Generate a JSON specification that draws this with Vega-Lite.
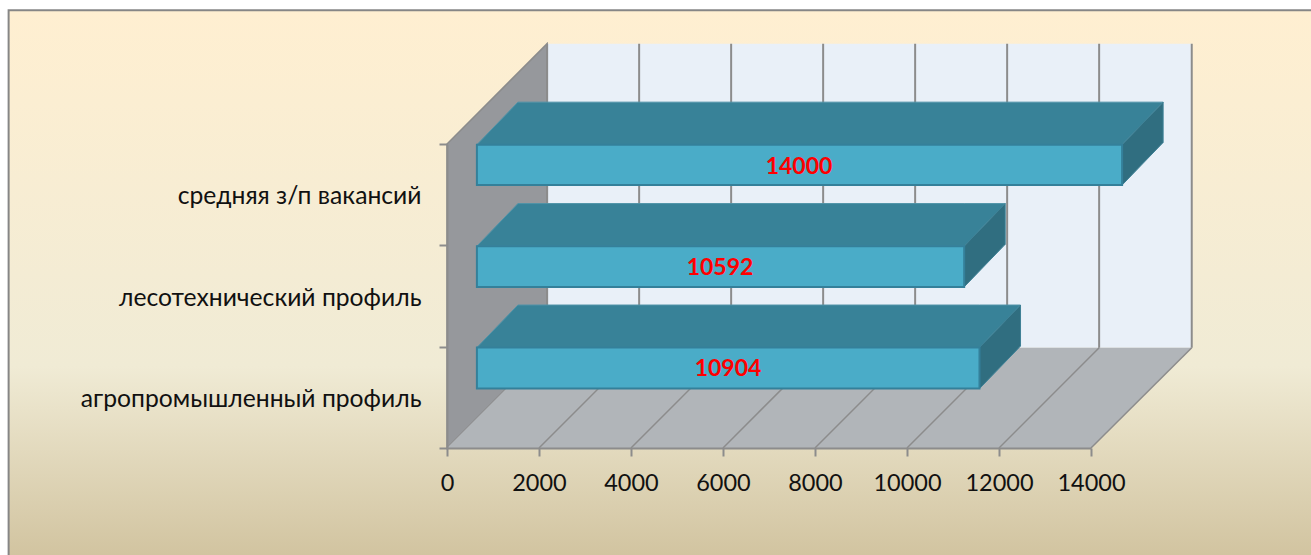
{
"$schema":"https://vega.github.io/schema/vega-lite/v6.json",
"width":644,"height":304,
"autosize":"none",
"padding":{"left":447,"top":144,"right":220,"bottom":107},
"background":"white",
"config":{"view":{"stroke":null}},
"encoding":{
"x":{"field":"x","type":"quantitative","scale":{"domain":[0,14000],"nice":false,"zero":false},
"axis":{"title":null,"grid":false,"zindex":1,"values":[0,2000,4000,6000,8000,10000,12000,14000],"format":"d","labelFont":"Lato","labelFontSize":23.5,"labelColor":"#111111","labelPadding":15,"labelFlush":false,"labelOverlap":false,"labelBound":false,"tickSize":8,"tickWidth":2,"tickColor":"#8c8c8c","domainColor":"#8c8c8c","domainWidth":2}},
"y":{"field":"y","type":"quantitative","scale":{"domain":[0,3],"nice":false,"zero":false},
"axis":{"title":null,"grid":false,"zindex":1,"values":[0,0.5,1,1.5,2,2.5,3],"labelExpr":"datum.value==0.5?'агропромышленный профиль':datum.value==1.5?'лесотехнический профиль':datum.value==2.5?'средняя з/п вакансий':''","labelFont":"Lato","labelFontSize":24.7,"labelColor":"#111111","labelPadding":18,"labelOffset":2,"labelLimit":500,"labelFlush":false,"labelOverlap":false,"labelBound":false,"tickSize":8,"tickWidth":2,"tickColor":"#8c8c8c","tickOpacity":{"expr":"datum.value%1==0?1:0"},"domainColor":"#8c8c8c","domainWidth":2}}
},
"layer":[
{"data":{"values":[{"x":-9530,"x2":19000,"y":4.32,"y2":-1.1}]},
"mark":{"type":"rect","clip":false,"stroke":"#868686","strokeWidth":2,"color":{"gradient":"linear","x1":0,"y1":0,"x2":0,"y2":1,"stops":[{"offset":0,"color":"#FFEFD1"},{"offset":0.648,"color":"#F0EBD5"},{"offset":1,"color":"#D1C39F"}]}},
"encoding":{"x2":{"field":"x2"},"y2":{"field":"y2"}}},
{"data":{"values":[{"x":2177,"x2":16190,"y":0.99,"y2":3.99}]},
"mark":{"type":"rect","color":"#E9F0F8"},
"encoding":{"x2":{"field":"x2"},"y2":{"field":"y2"}}},
{"data":{"values":[{"x":0,"y":0,"y2":3},{"x":2177,"y":0.99,"y2":3.99}]},
"mark":{"type":"area","orient":"vertical","color":"#96989C","stroke":"#8c8c8c","strokeWidth":1.5},
"encoding":{"y2":{"field":"y2"}}},
{"data":{"values":[{"x":0,"y":0,"y2":0},{"x":2177,"y":0,"y2":0.99},{"x":14000,"y":0,"y2":0.99},{"x":16190,"y":0.99,"y2":0.99}]},
"mark":{"type":"area","orient":"vertical","color":"#B1B5B9"},
"encoding":{"y2":{"field":"y2"}}},
{"data":{"values":[
{"x":2177,"x2":2177,"y":0.99,"y2":3.99},{"x":4177,"x2":4177,"y":0.99,"y2":3.99},{"x":6177,"x2":6177,"y":0.99,"y2":3.99},{"x":8177,"x2":8177,"y":0.99,"y2":3.99},{"x":10177,"x2":10177,"y":0.99,"y2":3.99},{"x":12177,"x2":12177,"y":0.99,"y2":3.99},{"x":14177,"x2":14177,"y":0.99,"y2":3.99},{"x":16190,"x2":16190,"y":0.99,"y2":3.99}]},
"mark":{"type":"rule","color":"#8c8c8c","strokeWidth":2},
"encoding":{"x2":{"field":"x2"},"y2":{"field":"y2"}}},
{"data":{"values":[
{"x":2000,"x2":4177,"y":0,"y2":0.99},{"x":4000,"x2":6177,"y":0,"y2":0.99},{"x":6000,"x2":8177,"y":0,"y2":0.99},{"x":8000,"x2":10177,"y":0,"y2":0.99},{"x":10000,"x2":12177,"y":0,"y2":0.99},{"x":12000,"x2":14177,"y":0,"y2":0.99},{"x":14000,"x2":16190,"y":0,"y2":0.99}]},
"mark":{"type":"rule","color":"#8c8c8c","strokeWidth":1.5},
"encoding":{"x2":{"field":"x2"},"y2":{"field":"y2"}}},
{"data":{"values":[
{"c":"средняя з/п вакансий","x":650,"y":2.993,"y2":2.993},{"c":"средняя з/п вакансий","x":1542,"y":2.993,"y2":3.413},{"c":"средняя з/п вакансий","x":14676,"y":2.993,"y2":3.413},{"c":"средняя з/п вакансий","x":15568,"y":3.413,"y2":3.413},
{"c":"лесотехнический профиль","x":650,"y":1.992,"y2":1.992},{"c":"лесотехнический профиль","x":1542,"y":1.992,"y2":2.412},{"c":"лесотехнический профиль","x":11243,"y":1.992,"y2":2.412},{"c":"лесотехнический профиль","x":12135,"y":2.412,"y2":2.412},
{"c":"агропромышленный профиль","x":650,"y":0.991,"y2":0.991},{"c":"агропромышленный профиль","x":1542,"y":0.991,"y2":1.411},{"c":"агропромышленный профиль","x":11576,"y":0.991,"y2":1.411},{"c":"агропромышленный профиль","x":12468,"y":1.411,"y2":1.411}]},
"mark":{"type":"area","orient":"vertical","color":"#388298","stroke":"#4f93a8","strokeWidth":1},
"encoding":{"y2":{"field":"y2"},"detail":{"field":"c"}}},
{"data":{"values":[
{"c":"средняя з/п вакансий","x":14676,"y":2.595,"y2":2.993},{"c":"средняя з/п вакансий","x":15568,"y":3.015,"y2":3.413},
{"c":"лесотехнический профиль","x":11243,"y":1.59,"y2":1.992},{"c":"лесотехнический профиль","x":12135,"y":2.01,"y2":2.412},
{"c":"агропромышленный профиль","x":11576,"y":0.586,"y2":0.991},{"c":"агропромышленный профиль","x":12468,"y":1.006,"y2":1.411}]},
"mark":{"type":"area","orient":"vertical","color":"#306E80","stroke":"#3f8196","strokeWidth":1},
"encoding":{"y2":{"field":"y2"},"detail":{"field":"c"}}},
{"data":{"values":[
{"c":"средняя з/п вакансий","value":14000,"x":650,"x2":14676,"y":2.595,"y2":2.993},
{"c":"лесотехнический профиль","value":10592,"x":650,"x2":11243,"y":1.59,"y2":1.992},
{"c":"агропромышленный профиль","value":10904,"x":650,"x2":11576,"y":0.586,"y2":0.991}]},
"mark":{"type":"rect","color":"#4AACC8","stroke":"#34809A","strokeWidth":2},
"encoding":{"x2":{"field":"x2"},"y2":{"field":"y2"}}},
{"data":{"values":[
{"label":14000,"x":7652,"y":2.774},
{"label":10592,"x":5935,"y":1.777},
{"label":10904,"x":6109,"y":0.78}]},
"mark":{"type":"text","font":"Lato","fontWeight":"bold","fontSize":23,"color":"#FF0000","align":"center","baseline":"middle"},
"encoding":{"text":{"field":"label","type":"quantitative","format":"d"}}}
]
}
